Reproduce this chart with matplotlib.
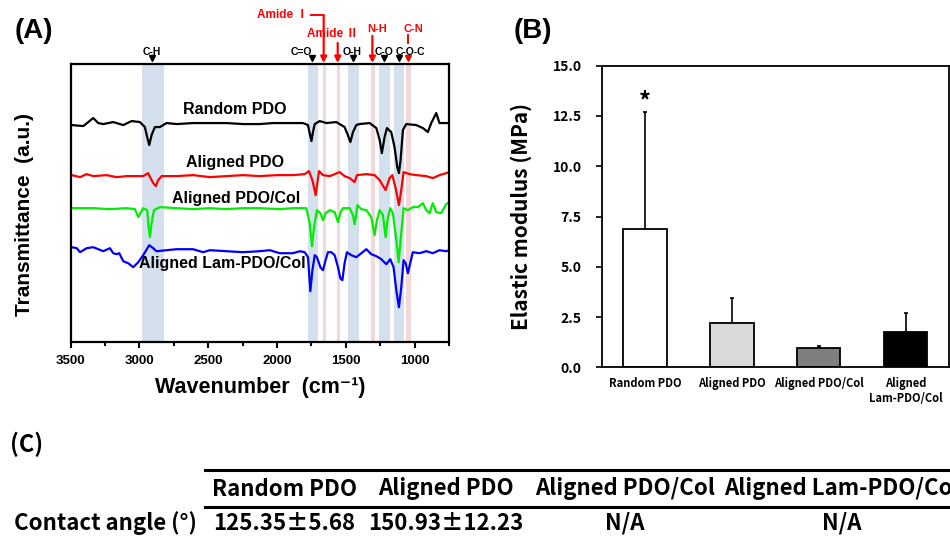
import matplotlib.pyplot as plt
from matplotlib.lines import Line2D
from matplotlib.ticker import MultipleLocator

W, H = 950, 537

# ---- (A) FTIR spectra, (wavenumber cm-1, transmittance a.u.)
random_pdo = [(3500, 217), (3493, 217), (3408, 216), (3336, 224), (3300, 219), (3263, 218), (3191, 220),
              (3118, 217), (3057, 221), (2997, 220), (2961, 215), (2944, 205), (2929, 197), (2912, 207),
              (2888, 215), (2852, 215), (2803, 219), (2730, 218), (2610, 219), (2489, 219), (2367, 219),
              (2247, 218), (2126, 218), (2029, 219), (1932, 219), (1811, 219), (1775, 217), (1763, 209),
              (1750, 201), (1739, 210), (1726, 218), (1690, 221), (1641, 219), (1569, 220), (1509, 215),
              (1485, 207), (1467, 200), (1448, 210), (1424, 217), (1400, 218), (1327, 219), (1278, 214),
              (1254, 202), (1238, 189), (1218, 205), (1201, 214), (1170, 210), (1146, 195), (1126, 175),
              (1114, 169), (1102, 182), (1085, 212), (1061, 218), (988, 217), (940, 214), (904, 210),
              (879, 219), (843, 229), (819, 219), (770, 219), (750, 219)]
aligned_pdo = [(3500, 167), (3493, 167), (3432, 165), (3384, 168), (3336, 166), (3239, 167), (3166, 165),
               (3094, 166), (2973, 166), (2937, 169), (2919, 164), (2900, 159), (2881, 156), (2864, 162),
               (2839, 166), (2730, 166), (2610, 167), (2489, 165), (2367, 166), (2247, 167), (2126, 166),
               (2004, 167), (1884, 167), (1799, 168), (1768, 171), (1743, 162), (1719, 147), (1707, 159),
               (1695, 171), (1666, 167), (1617, 166), (1545, 170), (1509, 166), (1472, 164), (1436, 160),
               (1419, 167), (1351, 168), (1291, 167), (1254, 162), (1211, 152), (1182, 164), (1162, 167),
               (1138, 154), (1114, 137), (1097, 152), (1080, 170), (1037, 168), (988, 167), (916, 166),
               (868, 164), (819, 167), (770, 169), (750, 170)]
aligned_pdo_col = [(3500, 134), (3493, 134), (3336, 134), (3215, 133), (3094, 134), (3033, 133), (3009, 125),
                   (2992, 129), (2973, 134), (2944, 132), (2934, 115), (2924, 105), (2912, 119), (2895, 132),
                   (2852, 135), (2730, 134), (2610, 133), (2489, 134), (2367, 133), (2247, 134), (2126, 134),
                   (1981, 133), (1884, 134), (1787, 134), (1763, 119), (1746, 96), (1731, 115), (1710, 132),
                   (1685, 129), (1666, 122), (1647, 129), (1617, 132), (1581, 130), (1557, 120), (1538, 130),
                   (1521, 134), (1472, 134), (1448, 127), (1436, 118), (1424, 128), (1416, 137), (1387, 133),
                   (1351, 132), (1315, 125), (1291, 107), (1274, 122), (1254, 132), (1230, 127), (1211, 105),
                   (1194, 125), (1177, 134), (1158, 129), (1133, 102), (1116, 80), (1102, 102), (1080, 134),
                   (1049, 132), (1013, 135), (976, 135), (940, 139), (916, 132), (891, 129), (868, 139),
                   (843, 130), (807, 129), (770, 138), (750, 140)]
aligned_lam = [(3500, 95), (3493, 95), (3456, 94), (3432, 90), (3384, 94), (3336, 95), (3263, 91), (3215, 94),
               (3191, 89), (3166, 88), (3147, 89), (3118, 81), (3082, 79), (3045, 75), (3009, 80), (2973, 87),
               (2929, 97), (2900, 94), (2876, 91), (2803, 92), (2730, 93), (2610, 93), (2537, 90), (2489, 92),
               (2367, 91), (2247, 90), (2126, 91), (2053, 92), (1981, 89), (1884, 89), (1835, 91), (1799, 90),
               (1775, 85), (1758, 51), (1743, 72), (1726, 87), (1710, 85), (1685, 75), (1666, 72), (1647, 82),
               (1630, 90), (1605, 90), (1581, 87), (1557, 75), (1540, 64), (1525, 62), (1509, 79), (1492, 90),
               (1460, 87), (1424, 85), (1387, 89), (1351, 93), (1315, 88), (1278, 86), (1242, 83), (1206, 78),
               (1177, 83), (1153, 75), (1133, 52), (1114, 35), (1097, 55), (1080, 82), (1065, 79), (1049, 69),
               (1032, 79), (1013, 90), (964, 89), (916, 91), (868, 89), (819, 92), (770, 91), (750, 92)]

spectra = [("Random PDO", random_pdo, "black"),
           ("Aligned PDO", aligned_pdo, "#ff0000"),
           ("Aligned PDO/Col", aligned_pdo_col, "#00ee00"),
           ("Aligned Lam-PDO/Col", aligned_lam, "#0000ff")]

blue_bands = [(2980, 2825), (1773, 1701), (1483, 1406), (1261, 1181), (1150, 1080)]
pink_bands = [(1665, 1645), (1563, 1539), (1319, 1290), (1060, 1024)]
black_marks = {"C-H": 2910, "C=O": 1743, "O-H": 1450, "C-O": 1225, "C-O-C": 1116}
red_arrows = {"Amide I": 1661, "Amide II": 1559, "N-H": 1307, "C-N": 1051}

# ---- (B) elastic modulus
groups = ["Random PDO", "Aligned PDO", "Aligned PDO/Col", "Aligned\nLam-PDO/Col"]
modulus = [6.86, 2.19, 0.94, 1.76]
modulus_sd = [5.82, 1.27, 0.13, 0.93]
bar_colors = ["white", "#d9d9d9", "#7f7f7f", "black"]

# ---- (C) contact angle table
table_cols = ["Random PDO", "Aligned PDO", "Aligned PDO/Col", "Aligned Lam-PDO/Col"]
row_label = "Contact angle (\u00b0)"
contact_angle = ["125.35\u00b15.68", "150.93\u00b112.23", "N/A", "N/A"]

fA = "Liberation Sans"
fK = ["Noto Sans CJK KR", "DejaVu Sans"]


def fx(px):
    return px / W


def fy(py):
    return 1 - py / H


fig = plt.figure(figsize=(9.5, 5.37), dpi=100)

# ================= (A)
axA = fig.add_axes([fx(70.7), fy(342.3), (449 - 70.7) / W, (342.3 - 64) / H])
for lo, hi in blue_bands:
    axA.axvspan(hi, lo, color="#d5e0ee", lw=0, zorder=0)
for lo, hi in pink_bands:
    axA.axvspan(hi, lo, color="#f2d8d8", lw=0, zorder=0)
for name, pts, col in spectra:
    xs = [p[0] for p in pts]
    ys = [p[1] for p in pts]
    axA.plot(xs, ys, color=col, lw=1.6, zorder=2)
axA.set_xlim(3500, 750)
axA.set_ylim(0, 278)
axA.set_yticks([])
axA.xaxis.set_major_locator(MultipleLocator(500))
axA.xaxis.set_minor_locator(MultipleLocator(250))
axA.tick_params(axis="x", which="major", direction="out", length=4, width=1.5, pad=5)
axA.tick_params(axis="x", which="minor", direction="out", length=3, width=1.5)
for lab in axA.get_xticklabels():
    lab.set_fontfamily(fA)
    lab.set_fontweight("bold")
    lab.set_fontsize(9.5)
for sp in axA.spines.values():
    sp.set_linewidth(1.6)
axA.set_xlabel("Wavenumber  (cm\u207b\u00b9)", fontsize=15.5, fontweight="bold",
               family=[fA, "DejaVu Sans"], labelpad=7)
axA.set_ylabel("Transmittance  (a.u.)", fontsize=15, fontweight="bold", family=fA)


def ya(py):
    return (342.3 - py) / (342.3 - 64)


axA.yaxis.set_label_coords((34 - 70.7) / (449 - 70.7), ya(215))

label_pos = {"Random PDO": (235, 110), "Aligned PDO": (235, 162),
             "Aligned PDO/Col": (236, 199), "Aligned Lam-PDO/Col": (222, 264)}
for name, pts, col in spectra:
    x, y = label_pos[name]
    fig.text(fx(x), fy(y), name, ha="center", va="center", fontsize=11.5,
             fontweight="bold", family=fA)

trA = axA.get_xaxis_transform()

text_shift = {"C-H": 0, "C=O": -11, "O-H": -1, "C-O": 0, "C-O-C": 12}
for name, wn in black_marks.items():
    axA.plot([wn], [ya(58.5)], marker="v", color="black", ms=5, transform=trA, clip_on=False)
    axA.annotate(name, xy=(wn, ya(52)), xycoords=trA, xytext=(text_shift[name], 0),
                 textcoords="offset pixels", ha="center", va="center",
                 fontsize=7.5, fontweight="bold", family=fA)

red = "#ff0000"
arrow_top = {"Amide I": 15, "Amide II": 43, "N-H": 36}
for name in ["Amide I", "Amide II", "N-H"]:
    wn = red_arrows[name]
    axA.annotate("", xy=(wn, ya(63)), xycoords=trA, xytext=(wn, ya(arrow_top[name])),
                 textcoords=trA,
                 arrowprops=dict(arrowstyle="-|>", color=red, lw=1.6, mutation_scale=9,
                                 shrinkA=0, shrinkB=0))
# Amide I elbow
axA.annotate("", xy=(red_arrows["Amide I"], ya(15)), xycoords=trA, xytext=(-13, 0),
             textcoords="offset pixels",
             arrowprops=dict(arrowstyle="-", color=red, lw=1.4, shrinkA=0, shrinkB=0))
axA.annotate("Amide \u2160", xy=(red_arrows["Amide I"], ya(15)), xycoords=trA, xytext=(-16, 0),
             textcoords="offset pixels", ha="right", va="center", color=red,
             fontsize=8.5, fontweight="bold", family=[fA, "Noto Sans CJK KR"])
axA.annotate("Amide \u2161", xy=(red_arrows["Amide II"], ya(34)), xycoords=trA, xytext=(-5, 0),
             textcoords="offset pixels", ha="center", va="center", color=red,
             fontsize=8.5, fontweight="bold", family=[fA, "Noto Sans CJK KR"])
axA.annotate("N-H", xy=(red_arrows["N-H"], ya(29)), xycoords=trA, xytext=(5, 0),
             textcoords="offset pixels", ha="center", va="center", color=red,
             fontsize=8, fontweight="bold", family=fA)
axA.annotate("C-N", xy=(red_arrows["C-N"], ya(29)), xycoords=trA, xytext=(6, 0),
             textcoords="offset pixels", ha="center", va="center", color=red,
             fontsize=8, fontweight="bold", family=fA)
axA.plot([red_arrows["C-N"]] * 2, [ya(35), ya(43)], color=red, lw=1.4, transform=trA, clip_on=False)
axA.plot([red_arrows["C-N"]], [ya(58.5)], marker="v", color=red, ms=5, transform=trA, clip_on=False)

# ================= (B)
axB = fig.add_axes([fx(601.7), fy(367.3), (949 - 601.7) / W, (367.3 - 65.7) / H])
xpos = list(range(len(groups)))
axB.bar(xpos, modulus, width=0.5, color=bar_colors, edgecolor="black", linewidth=1.3, zorder=2)
axB.errorbar(xpos, modulus, yerr=[[0] * len(modulus), modulus_sd], fmt="none",
             ecolor="black", elinewidth=1.2, capsize=1.5, capthick=1.2, zorder=1)
axB.set_xlim(-0.5, 3.5)
axB.set_ylim(0, 15)
axB.set_yticks([0, 2.5, 5, 7.5, 10, 12.5, 15])
axB.set_yticklabels(["0.0", "2.5", "5.0", "7.5", "10.0", "12.5", "15.0"])
axB.set_xticks(xpos)
axB.set_xticklabels(groups)
axB.tick_params(axis="x", length=0, pad=7)
axB.tick_params(axis="y", direction="out", length=4.5, width=1.2, pad=10)
for lab in axB.get_xticklabels():
    lab.set_family(fK)
    lab.set_fontsize(8)
    lab.set_fontweight("bold")
for lab in axB.get_yticklabels():
    lab.set_family(fK)
    lab.set_fontsize(10)
    lab.set_fontweight("bold")
for sp in axB.spines.values():
    sp.set_linewidth(1.3)
axB.set_ylabel("Elastic modulus (MPa)", fontsize=15, fontweight="bold", family=fK)
axB.yaxis.set_label_coords((532 - 601.7) / (949 - 601.7), (367.3 - 216) / (367.3 - 65.7))
axB.text(0, modulus[0] + modulus_sd[0] + 0.55, "*", ha="center", va="center",
         fontsize=17, fontweight="bold", family=fK)

# ================= (C)
fig.text(fx(34), fy(31), "(A)", ha="center", va="center", fontsize=20, fontweight="bold", family=fA)
fig.text(fx(533), fy(31), "(B)", ha="center", va="center", fontsize=20, fontweight="bold", family=fA)
fig.text(fx(10), fy(444), "(C)", ha="left", va="center", fontsize=17, fontweight="bold", family=fK)

fig.add_artist(Line2D([fx(205), fx(950)], [fy(469.5), fy(469.5)], color="black", lw=2.2))
fig.add_artist(Line2D([fx(205), fx(950)], [fy(506.5), fy(506.5)], color="black", lw=2.2))
col_x = [284, 446, 625, 842]
for cx, head, val in zip(col_x, table_cols, contact_angle):
    fig.text(fx(cx), fy(489), head, ha="center", va="center", fontsize=16, fontweight="bold", family=fK)
    fig.text(fx(cx), fy(523), val, ha="center", va="center", fontsize=16, fontweight="bold", family=fK)
fig.text(fx(14), fy(523), row_label, ha="left", va="center", fontsize=16, fontweight="bold", family=fK)

fig.savefig("out.png", dpi=100)
